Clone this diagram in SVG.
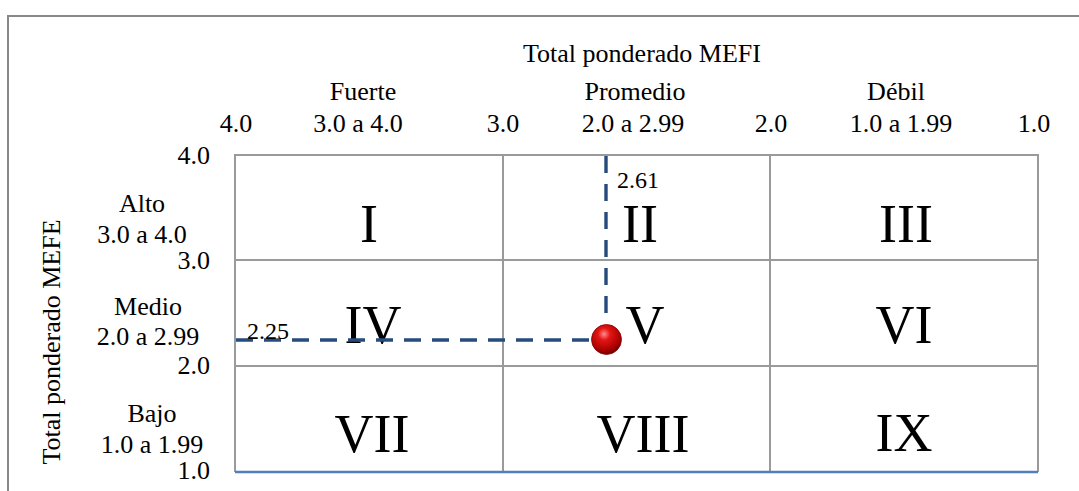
<svg xmlns="http://www.w3.org/2000/svg" width="1079" height="491" viewBox="0 0 1079 491">
<style>
text{font-family:"Liberation Serif","Times New Roman",serif;fill:#000}
.lbl{font-size:26px;text-anchor:middle}
.num{font-size:26px;text-anchor:end}
.rom{font-size:54px;text-anchor:middle}
.val{font-size:24px}
.grid{stroke:#9a9a9a;stroke-width:2;fill:none}
.dash{stroke:#274b7c;stroke-width:3.4;stroke-dasharray:17 11;fill:none}
</style>
<defs>
<radialGradient id="ball" cx="0.42" cy="0.32" r="0.68">
<stop offset="0" stop-color="#ff8a8a"/>
<stop offset="0.3" stop-color="#e41414"/>
<stop offset="0.8" stop-color="#a80000"/>
<stop offset="1" stop-color="#700000"/>
</radialGradient>
</defs>
<rect width="1079" height="491" fill="#fff"/>
<path d="M8 491 V16 H1079" stroke="#888" stroke-width="2" fill="none"/>
<g id="axis-x">
<text class="lbl" x="642" y="62">Total ponderado MEFI</text>
<text class="lbl" x="363" y="100">Fuerte</text>
<text class="lbl" x="635" y="100">Promedio</text>
<text class="lbl" x="896" y="100">Débil</text>
<text class="lbl" x="236" y="132">4.0</text>
<text class="lbl" x="358" y="132">3.0 a 4.0</text>
<text class="lbl" x="503" y="132">3.0</text>
<text class="lbl" x="633" y="132">2.0 a 2.99</text>
<text class="lbl" x="771" y="132">2.0</text>
<text class="lbl" x="901" y="132">1.0 a 1.99</text>
<text class="lbl" x="1034" y="132">1.0</text>
</g>
<g id="axis-y">
<text class="lbl" transform="translate(60 342) rotate(-90)">Total ponderado MEFE</text>
<text class="lbl" x="142" y="212">Alto</text>
<text class="lbl" x="142" y="243">3.0 a 4.0</text>
<text class="lbl" x="148" y="315">Medio</text>
<text class="lbl" x="148" y="345">2.0 a 2.99</text>
<text class="lbl" x="152" y="422">Bajo</text>
<text class="lbl" x="152" y="453">1.0 a 1.99</text>
<text class="num" x="210" y="164">4.0</text>
<text class="num" x="210" y="269">3.0</text>
<text class="num" x="210" y="374">2.0</text>
<text class="num" x="210" y="479">1.0</text>
</g>
<g id="grid">
<path class="grid" d="M235 472 V155 H1038 V472 M503 155 V472 M770 155 V472 M235 260 H1038 M235 366 H1038"/>
<path d="M235 472 H1038" stroke="#4f7fbf" stroke-width="2.5"/>
</g>
<g id="cells">
<text class="rom" x="369" y="242">I</text>
<text class="rom" x="640" y="242">II</text>
<text class="rom" x="906" y="242">III</text>
<text class="rom" x="373" y="343">IV</text>
<text class="rom" x="645" y="343">V</text>
<text class="rom" x="904" y="343">VI</text>
<text class="rom" x="372" y="452">VII</text>
<text class="rom" x="643" y="452">VIII</text>
<text class="rom" x="904" y="451">IX</text>
</g>
<g id="connectors">
<path class="dash" d="M606 156 V324"/>
<path class="dash" d="M236 340 H592"/>
</g>
<g id="values">
<text class="val" x="617" y="188">2.61</text>
<text class="val" x="247" y="339">2.25</text>
</g>
<g id="point">
<circle cx="606.5" cy="339.5" r="15" fill="url(#ball)" stroke="#8a0000" stroke-width="0.8"/>
</g>
</svg>
